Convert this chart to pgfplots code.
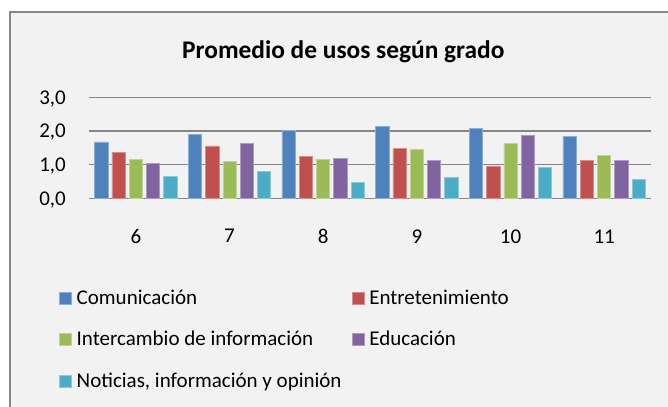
\documentclass[border=0pt]{standalone}
\usepackage{fontspec}
\setmainfont{Carlito}
\usepackage{pgfplots}
\pgfplotsset{compat=1.18}
\definecolor{cA}{HTML}{4F81BD}
\definecolor{cB}{HTML}{C0504D}
\definecolor{cC}{HTML}{9BBB59}
\definecolor{cD}{HTML}{8064A2}
\definecolor{cE}{HTML}{4BACC6}
\definecolor{bg}{HTML}{F2F2F2}
\definecolor{gridc}{HTML}{868686}
\begin{document}
\begin{tikzpicture}
\path[use as bounding box] (0,0) rectangle (668bp,407bp);
\fill[white] (0,0) rectangle (668bp,407bp);
\filldraw[fill=bg, draw=gridc, line width=2.4bp] (10bp,-20bp) rectangle (700bp,395bp);
\node[font=\fontsize{25.4bp}{30bp}\selectfont\bfseries, anchor=base, inner sep=0pt] at (343.3bp,348.7bp) {Promedio de usos según grado};
\begin{axis}[
  at={(89bp,208.3bp)}, anchor=south west,
  scale only axis, width=562bp, height=101.4bp,
  ybar=4bp, bar width=13.3bp,
  xmin=-0.5, xmax=5.5, ymin=0, ymax=3,
  xtick={0,1,2,3,4,5}, xticklabels={6,7,8,9,10,11},
  ytick={0,1,2,3},
  major tick length=0pt,
  axis line style={draw=none},
  ymajorgrids, major grid style={gridc, line width=1.2bp},
  tick label style={font=\fontsize{21bp}{25bp}\selectfont},
  yticklabel style={anchor=east, inner sep=0pt, text depth=0pt, xshift=-23bp},
  xticklabel style={anchor=north, inner sep=0pt, yshift=-30.6bp},
  yticklabel={\pgfmathprintnumber[fixed,fixed zerofill,precision=1,use comma,assume math mode=true]{\tick}},
  legend columns=2,
  legend style={at={(-0.05338,-0.9004)}, anchor=north west, draw=none, fill=none,
    inner sep=0pt, outer sep=0pt, font=\fontsize{21bp}{25bp}\selectfont,
    cells={anchor=base west},
    nodes={inner sep=0pt, text height=14bp, text depth=4bp},
    column sep=5bp, row sep=23.5bp,
    /tikz/every even column/.append style={column sep=10bp}},
  every axis plot post/.append style={legend image code/.code={\fill[##1] (0bp,0bp) rectangle (12bp,12bp);}},
]
\addplot[fill=cA, draw=cA!65!white, line width=0.7bp] coordinates {(0,1.68) (1,1.90) (2,2.02) (3,2.15) (4,2.08) (5,1.84)};
\addplot[fill=cB, draw=cB!65!white, line width=0.7bp] coordinates {(0,1.37) (1,1.56) (2,1.26) (3,1.48) (4,0.97) (5,1.13)};
\addplot[fill=cC, draw=cC!65!white, line width=0.7bp] coordinates {(0,1.15) (1,1.10) (2,1.15) (3,1.45) (4,1.63) (5,1.27)};
\addplot[fill=cD, draw=cD!65!white, line width=0.7bp] coordinates {(0,1.05) (1,1.64) (2,1.18) (3,1.13) (4,1.86) (5,1.13)};
\addplot[fill=cE, draw=cE!65!white, line width=0.7bp] coordinates {(0,0.66) (1,0.81) (2,0.49) (3,0.63) (4,0.92) (5,0.58)};
\legend{Comunicación, Entretenimiento, Intercambio de información, Educación, {Noticias, información y opinión}}
\end{axis}
\end{tikzpicture}
\end{document}
